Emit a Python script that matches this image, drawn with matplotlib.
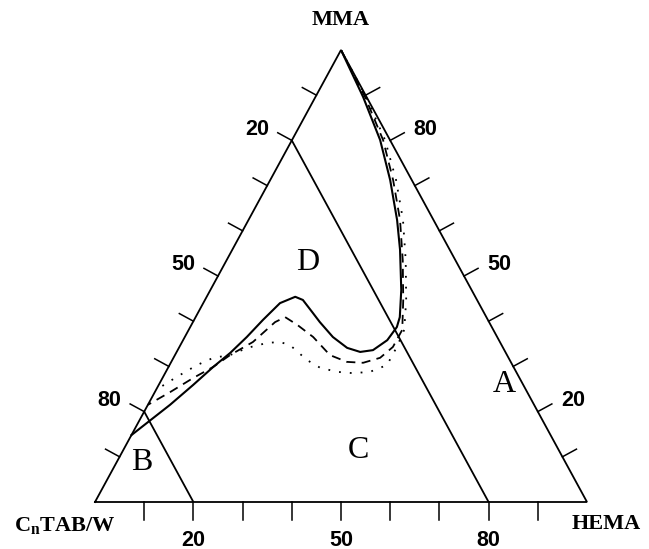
import numpy as np
import matplotlib.pyplot as plt

# phase boundaries, wt% HEMA and wt% MMA (CnTAB/W is the remainder)
solid_hema = [0, 9.7, 17.9, 24.4, 30.2, 34.1, 38.8, 41.5, 42.0, 41.5, 39.7, 37.3,
              34.2, 30.1, 25.8, 23.4, 19.9, 18.0, 15.6, 14.0, 12.6, 11.0, 9.1,
              7.0, 4.5, 0]
solid_mma = [100, 89.6, 80.1, 71.2, 62.4, 55.8, 46.9, 40.9, 38.7, 35.8, 33.6, 33.2,
             34.1, 36.5, 39.8, 41.8, 44.7, 45.4, 44.0, 40.3, 36.5, 33.0, 29.9,
             25.9, 21.5, 14.8]

dashed_hema = [0, 10.1, 18.5, 25.0, 30.8, 35.8, 40.3, 43.4, 43.4, 42.0, 39.1, 35.7,
               31.5, 26.1, 21.5, 18.2, 16.7, 14.4, 11.2, 9.1, 6.2, 3.1, 0]
dashed_mma = [100, 89.6, 80.1, 71.2, 62.4, 53.5, 44.7, 38.1, 34.3, 31.9, 30.8, 31.0,
              32.5, 36.5, 39.2, 40.9, 39.8, 35.4, 32.5, 29.9, 27.4, 24.3, 21.5]

dotted_hema = [0, 10.3, 18.9, 25.6, 31.4, 36.4, 40.9, 43.8, 44.2, 44.2, 41.5, 38.2,
               34.8, 30.9, 27.4, 22.3, 19.9, 17.4, 13.9, 11.2, 8.1, 5.6, 2.8, 0]
dotted_mma = [100, 89.6, 80.1, 71.2, 62.4, 53.5, 44.7, 38.1, 34.3, 30.3, 28.8, 28.5,
              28.8, 29.7, 31.4, 34.7, 35.4, 35.2, 34.1, 32.5, 31.9, 30.3, 27.7, 24.8]

tick_values = [10, 20, 30, 40, 50, 60, 70, 80, 90]
tick_labels = {20: '20', 50: '50', 80: '80'}
tie_lines = [20, 80]  # constant CnTAB/W lines

W, H = 492.0, 452.0  # triangle size in pixels


def tern(hema, mma):
    h = np.asarray(hema) / 100.0
    m = np.asarray(mma) / 100.0
    return h + m / 2, m


def pix(x, y):
    # figure pixel position -> axes data
    return (x - 95) / W, (502 - y) / H


fig = plt.figure(figsize=(6.49, 5.49), dpi=100)
ax = fig.add_axes([95 / 649, 47 / 549, W / 649, H / 549])
ax.set_xlim(0, 1)
ax.set_ylim(0, 1)
ax.axis('off')

lw = 1.3
k = 'black'

# triangle
tx, ty = tern([0, 100, 0, 0], [0, 0, 100, 0])
ax.plot(tx, ty, color=k, lw=lw, clip_on=False, solid_joinstyle='miter')

# ticks, perpendicular outward
nx, ny = 0.878 * 16, 0.478 * 16
for v in tick_values:
    # bottom (HEMA)
    x0, y0 = tern(v, 0)
    ax.plot([x0, x0], [y0, y0 - 18 / H], color=k, lw=1.1, clip_on=False)
    # right (MMA)
    x0, y0 = tern(100 - v, v)
    ax.plot([x0, x0 + nx / W], [y0, y0 + ny / H], color=k, lw=1.1, clip_on=False)
    # left (CnTAB/W)
    x0, y0 = tern(0, 100 - v)
    ax.plot([x0, x0 - nx / W], [y0, y0 + ny / H], color=k, lw=1.1, clip_on=False)

sans = dict(family='Liberation Sans', fontsize=15.5, fontweight='bold',
            ha='center', va='center')
for v, s in tick_labels.items():
    x0, y0 = tern(v, 0)
    ax.text(x0, y0 - 38 / H, s, **sans)
    x0, y0 = tern(100 - v, v)
    ax.text(x0 + 35 / W, y0 + 11 / H, s, **sans)
    x0, y0 = tern(0, 100 - v)
    ax.text(x0 - 35 / W, y0 + 11 / H, s, **sans)

# constant CnTAB/W lines
for c in tie_lines:
    lx, ly = tern([0, 100 - c], [100 - c, 0])
    ax.plot(lx, ly, color=k, lw=lw)

# boundaries
ax.plot(*tern(solid_hema, solid_mma), color=k, lw=1.5)
ax.plot(*tern(dashed_hema, dashed_mma), color=k, lw=1.3, linestyle=(0, (5, 3.5)))
ax.plot(*tern(dotted_hema, dotted_mma), color=k, lw=1.3, linestyle=(0, (1, 5)))

# vertex labels
serif = dict(family='Liberation Serif', fontweight='bold', fontsize=16,
             ha='center', va='center')
ax.text(*pix(341, 20), 'MMA', **serif)
ax.text(*pix(606, 524), 'HEMA', **serif)
ax.text(*pix(65, 526), r'C$_\mathregular{n}$TAB/W', **serif)

# region labels
reg = dict(family='Liberation Serif', fontsize=23, ha='center', va='center')
ax.text(*pix(308, 263), 'D', **reg)
ax.text(*pix(358, 450), 'C', **reg)
ax.text(*pix(142, 462), 'B', **reg)
ax.text(*pix(504, 384), 'A', **reg)

fig.savefig('out.png', dpi=100)
